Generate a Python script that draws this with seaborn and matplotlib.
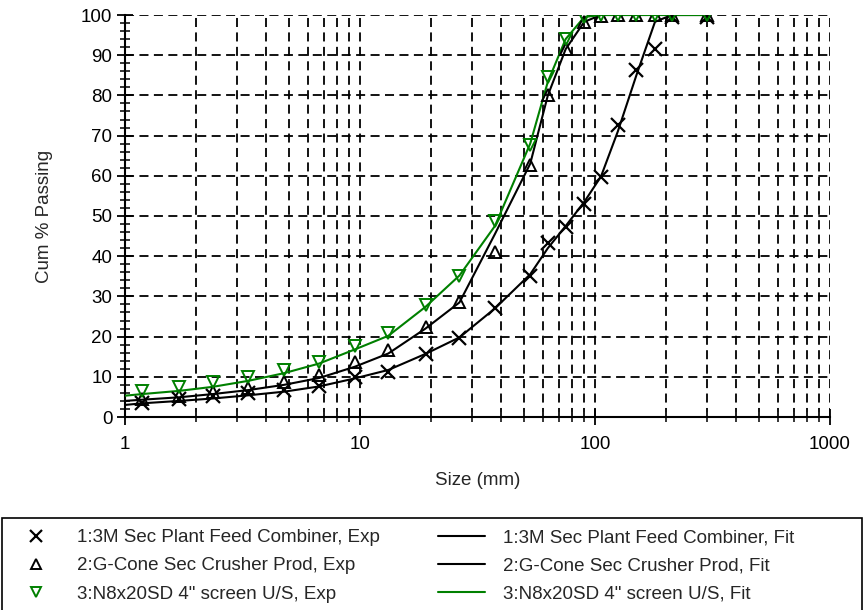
import matplotlib
matplotlib.use("Agg")
import matplotlib.pyplot as plt
import seaborn as sns
import numpy as np
from matplotlib.patches import Rectangle
from matplotlib.ticker import LogLocator, MultipleLocator, FixedLocator, NullFormatter

# ---- data ----
sizes_exp = [1.18, 1.7, 2.36, 3.35, 4.75, 6.7, 9.5, 13.2, 19, 26.5, 37.5, 53, 63, 75, 90, 106, 125, 150, 180, 212, 300]
feed_exp = [3.6, 4.5, 5.2, 5.9, 6.6, 7.8, 10.0, 11.3, 15.7, 19.6, 27.0, 35.1, 43.2, 47.3, 53.0, 59.6, 72.6, 86.3, 91.6, 99.6, 99.6]
cone_exp = [4.5, 5.2, 6.2, 7.2, 8.8, 10.4, 13.7, 16.7, 22.5, 28.7, 41.1, 62.7, 80.1, 91.5, 98.3, 99.7, 100, 100, 100, 100, 100]
screen_exp = [6.5, 7.4, 8.6, 10.0, 11.7, 13.8, 17.6, 20.8, 27.9, 35.1, 48.8, 67.6, 84.6, 94.1, 99.4, 100, 100, 100, 100, 100, 100]

sizes_fit = [1.0, 1.18, 1.7, 2.36, 3.35, 4.75, 6.7, 9.5, 13.2, 19, 26.5, 37.5, 53, 63, 75, 90, 106, 125, 150, 180, 212, 300]
feed_fit = [3.0, 3.4, 4.0, 4.6, 5.4, 6.3, 7.6, 9.6, 11.7, 15.7, 19.8, 27.0, 35.5, 42.0, 47.5, 53.5, 59.8, 71.0, 85.0, 98.3, 100, 100]
cone_fit = [4.0, 4.3, 4.9, 5.7, 6.7, 8.0, 9.7, 12.5, 15.8, 22.0, 28.5, 45.5, 63.0, 80.0, 91.5, 98.3, 100, 100, 100, 100, 100, 100]
screen_fit = [5.3, 5.7, 6.5, 7.5, 9.0, 10.9, 13.3, 16.8, 20.2, 27.4, 35.2, 47.5, 68.0, 83.4, 94.0, 99.5, 100, 100, 100, 100, 100, 100]

names = ["1:3M Sec Plant Feed Combiner", "2:G-Cone Sec Crusher Prod", "3:N8x20SD 4\" screen U/S"]
x_ticks = [1, 10, 100, 1000]
x_ticklabels = ["1", "10", "100", "1000"]

GREEN = "#008000"
FS = 13.5

sns.set_style("white")
plt.rcParams['font.family'] = ['Liberation Sans', 'DejaVu Sans']

fig = plt.figure(figsize=(8.64, 6.10), dpi=100)
ax = fig.add_axes([125/864, 1-417/610, (830-125)/864, (417-15)/610])

# fits
sns.lineplot(x=sizes_fit, y=feed_fit, ax=ax, color="black", lw=1.5, label=names[0] + ", Fit", sort=False, zorder=3)
sns.lineplot(x=sizes_fit, y=cone_fit, ax=ax, color="black", lw=1.5, label=names[1] + ", Fit", sort=False, zorder=3)
sns.lineplot(x=sizes_fit, y=screen_fit, ax=ax, color=GREEN, lw=1.5, label=names[2] + ", Fit", sort=False, zorder=4)

# experimental points
sns.lineplot(x=sizes_exp, y=feed_exp, ax=ax, color="black", linestyle="", marker="x",
             markersize=10, markeredgecolor="black", markeredgewidth=1.6,
             label=names[0] + ", Exp", sort=False, zorder=5)
sns.lineplot(x=sizes_exp, y=cone_exp, ax=ax, color="black", linestyle="", marker="^",
             markersize=8, markerfacecolor="none", markeredgecolor="black", markeredgewidth=1.4,
             label=names[1] + ", Exp", sort=False, zorder=5)
sns.lineplot(x=sizes_exp, y=screen_exp, ax=ax, color=GREEN, linestyle="", marker="v",
             markersize=8, markerfacecolor="none", markeredgecolor=GREEN, markeredgewidth=1.4,
             label=names[2] + ", Exp", sort=False, zorder=5)

ax.set_xscale("log")
ax.set_xlim(1, 1000)
ax.set_ylim(0, 100)

ax.xaxis.set_major_locator(FixedLocator(x_ticks))
ax.set_xticklabels(x_ticklabels)
ax.xaxis.set_minor_locator(LogLocator(base=10, subs=np.arange(2, 10)))
ax.xaxis.set_minor_formatter(NullFormatter())
ax.yaxis.set_major_locator(MultipleLocator(10))
ax.yaxis.set_minor_locator(MultipleLocator(2))

dash = (0, (5.0, 3.0))
ax.grid(True, which="major", axis="both", color="black", linestyle=dash, linewidth=1.3)
ax.grid(True, which="minor", axis="x", color="black", linestyle=dash, linewidth=1.3)
ax.set_axisbelow(True)

for s in ["top", "right"]:
    ax.spines[s].set_visible(False)
for s in ["left", "bottom"]:
    ax.spines[s].set_color("black")
    ax.spines[s].set_linewidth(1.5)

ax.tick_params(axis="both", which="major", direction="inout", length=12, width=1.3, labelsize=FS,
               colors="black", bottom=True, left=True)
ax.tick_params(axis="both", which="minor", direction="inout", length=7, width=1.3,
               bottom=True, left=True)
ax.tick_params(axis="x", which="major", pad=8)
ax.tick_params(axis="y", which="major", pad=3)

ax.set_xlabel("Size (mm)", fontsize=FS, labelpad=13)
ax.set_ylabel("Cum % Passing", fontsize=FS, labelpad=20)

handles, labels = ax.get_legend_handles_labels()
ax.get_legend().remove()
order = [3, 4, 5, 0, 1, 2]
leg = fig.legend([handles[i] for i in order], [labels[i] for i in order],
                 loc="upper left", bbox_to_anchor=(13/864, 1-529/610),
                 ncol=2, fontsize=FS, frameon=False,
                 handlelength=2.5, handletextpad=0.93, columnspacing=3.1, labelspacing=0.6,
                 borderaxespad=0, borderpad=0, markerscale=0.9)

fig.patches.append(Rectangle((2/864, -0.01), 860/864, (1-518/610) + 0.01,
                             transform=fig.transFigure, fill=False, edgecolor="black",
                             linewidth=1.2, figure=fig))

fig.savefig("out.png", dpi=100)
